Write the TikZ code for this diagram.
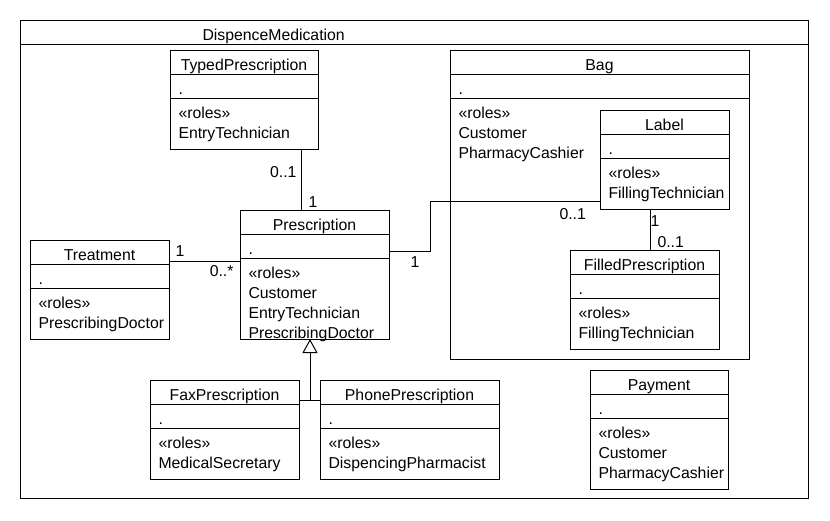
\documentclass[tikz,border=0pt]{standalone}
\usepackage{fontspec}
\setmainfont{Liberation Sans}
\usetikzlibrary{arrows.meta, calc}

\tikzset{
  classbox/.style={draw, inner sep=0pt, outer sep=0pt, anchor=north west},
  umltext/.style={inner sep=0pt},
  mult/.style={inner sep=0pt},
}

\newcommand{\umlclass}[6]{%
  \node[classbox, minimum width=#3pt, minimum height=#4pt] (#1) at #2 {};
  \draw ($(#1.north west)+(0,24)$) -- ($(#1.north east)+(0,24)$);
  \draw ($(#1.north west)+(0,48)$) -- ($(#1.north east)+(0,48)$);
  \node[umltext, anchor=base] (#1-name) at ($(#1.north)+(0,20)$) {#5};
  \node[umltext, anchor=base west] (#1-attr) at ($(#1.north west)+(8,44)$) {.};
  \foreach \role [count=\i from 0] in {«roles»,#6}
    \node[umltext, anchor=base west] (#1-r\i) at ($(#1.north west)+(8,68+20*\i)$) {\role};
}

\begin{document}
\begin{tikzpicture}[x=1pt, y=-1pt, line width=1pt, every node/.style={font=\fontsize{15.8}{20}\selectfont}]
  \useasboundingbox (0,0) rectangle (830,520);
  \node[classbox, minimum width=788pt, minimum height=478pt] (frame) at (20,20) {};
  \draw ($(frame.north west)+(0,24)$) -- ($(frame.north east)+(0,24)$);
  \node[umltext, anchor=base west] (frame-name) at ($(frame.north west)+(182,20)$) {DispenceMedication};

  \umlclass{typed}{(170,50)}{148}{99}{TypedPrescription}{EntryTechnician}
  \umlclass{presc}{(240,210)}{149}{129}{Prescription}{Customer,EntryTechnician,PrescribingDoctor}
  \umlclass{treat}{(30,240)}{139}{99}{Treatment}{PrescribingDoctor}
  \umlclass{bag}{(450,50)}{299}{309}{Bag}{Customer,PharmacyCashier}
  \umlclass{label}{(600,110)}{129}{99}{Label}{FillingTechnician}
  \umlclass{filled}{(570,250)}{149}{99}{FilledPrescription}{FillingTechnician}
  \umlclass{fax}{(150,380)}{149}{99}{FaxPrescription}{MedicalSecretary}
  \umlclass{phone}{(320,380)}{179}{99}{PhonePrescription}{DispencingPharmacist}
  \umlclass{pay}{(590,370)}{138}{119}{Payment}{Customer,PharmacyCashier}

  \draw ($(typed.south west)+(131,0)$) coordinate (c1) -- (c1 |- presc.north);
  \draw ($(treat.north east)+(0,21)$) coordinate (c2) -- (c2 -| presc.west);
  \draw ($(presc.north east)+(0,41)$) -- ++(41,0) |- ($(label.north west)+(0,91)$);
  \draw ($(label.south west)+(50,0)$) coordinate (c3) -- (c3 |- filled.north);
  \coordinate (genjoin) at ($(fax.north east)+(11,20)$);
  \draw (fax.east |- genjoin) -- (phone.west |- genjoin);
  \draw[-{Triangle[open, length=14pt, width=15pt]}] (genjoin) -- (genjoin |- presc.south);

  \node[mult, anchor=base east] (m-typed) at (297,177) {0..1};
  \node[mult, anchor=base west] (m-presc-t) at (308,207) {1};
  \node[mult, anchor=base west] (m-treat) at (175,256) {1};
  \node[mult, anchor=base east] (m-presc-tr) at (234,276) {0..*};
  \node[mult, anchor=base west] (m-presc-l) at (410,267) {1};
  \node[mult, anchor=base west] (m-label) at (559,219) {0..1};
  \node[mult, anchor=base west] (m-label-f) at (650,226) {1};
  \node[mult, anchor=base west] (m-filled) at (657,247) {0..1};
\end{tikzpicture}
\end{document}
